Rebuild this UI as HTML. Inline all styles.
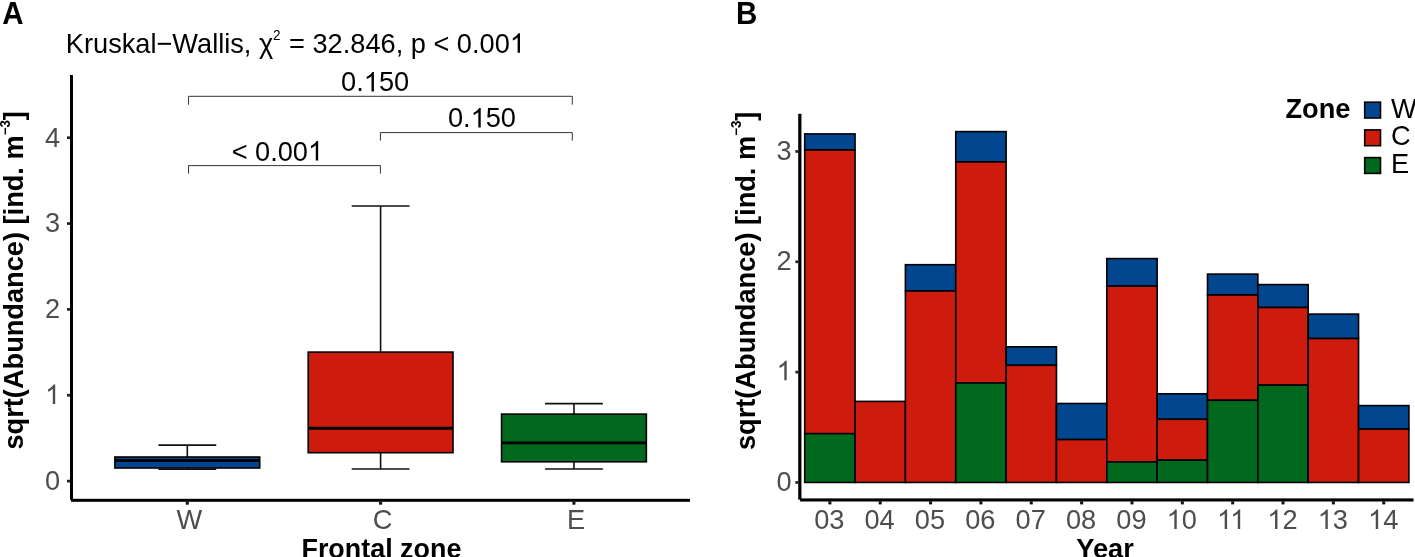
<!DOCTYPE html>
<html><head><meta charset="utf-8"><style>
html,body{margin:0;padding:0;background:#fff;}
svg{display:block;font-family:"Liberation Sans",sans-serif;font-kerning:normal;will-change:transform;}
</style></head><body>
<svg width="1415" height="557" viewBox="0 0 1415 557">
<rect width="1415" height="557" fill="#fff"/>
<text transform="translate(2.25,23.90) scale(1,1.035)" font-size="29.5" font-weight="bold">A</text>
<text transform="translate(65.85,52.80) scale(1,1.04)" font-size="27.2">Kruskal−Wallis,</text>
<text transform="translate(258.90,52.80) scale(1,1.04)" font-size="27.2">χ</text>
<text transform="translate(272.95,39.70) scale(1,1.04)" font-size="13.5">2</text>
<text transform="translate(289.05,52.80) scale(1,1.04)" font-size="27.2">= 32.846, p &lt; 0.00</text>
<path transform="translate(509.86,52.80) scale(0.01328,-0.01328)" d="M763 0L583 0L583 1147Q518 1085 412.5 1023Q307 961 223 930L223 1104Q374 1175 484.5 1274.5Q595 1374 646 1466L763 1466Z" fill="#000"/>
<rect x="70" y="75" width="3" height="424.8" fill="#000"/>
<rect x="71" y="498.8" width="619" height="3" fill="#000"/>
<rect x="67" y="479.75" width="3" height="2.7" fill="#222"/>
<text transform="translate(60.20,489.90) scale(1,1.04)" font-size="27.2" text-anchor="end" fill="#4d4d4d">0</text>
<rect x="67" y="393.90" width="3" height="2.7" fill="#222"/>
<path transform="translate(45.07,404.05) scale(0.01328,-0.01328)" d="M763 0L583 0L583 1147Q518 1085 412.5 1023Q307 961 223 930L223 1104Q374 1175 484.5 1274.5Q595 1374 646 1466L763 1466Z" fill="#4d4d4d"/>
<rect x="67" y="308.05" width="3" height="2.7" fill="#222"/>
<text transform="translate(60.20,318.20) scale(1,1.04)" font-size="27.2" text-anchor="end" fill="#4d4d4d">2</text>
<rect x="67" y="222.20" width="3" height="2.7" fill="#222"/>
<text transform="translate(60.20,232.35) scale(1,1.04)" font-size="27.2" text-anchor="end" fill="#4d4d4d">3</text>
<rect x="67" y="136.35" width="3" height="2.7" fill="#222"/>
<text transform="translate(60.20,146.50) scale(1,1.04)" font-size="27.2" text-anchor="end" fill="#4d4d4d">4</text>
<rect x="185.80" y="501.7" width="3" height="3.0" fill="#111"/>
<text transform="translate(189.30,528.70) scale(1,1.04)" font-size="27.2" text-anchor="middle" fill="#4d4d4d">W</text>
<rect x="379.10" y="501.7" width="3" height="3.0" fill="#111"/>
<text transform="translate(382.60,528.70) scale(1,1.04)" font-size="27.2" text-anchor="middle" fill="#4d4d4d">C</text>
<rect x="572.45" y="501.7" width="3" height="3.0" fill="#111"/>
<text transform="translate(575.95,528.70) scale(1,1.04)" font-size="27.2" text-anchor="middle" fill="#4d4d4d">E</text>
<text transform="translate(381.40,557.50) scale(1,1.04)" font-size="26.9" font-weight="bold" text-anchor="middle">Frontal zone</text>
<text transform="translate(23.20,449.50) rotate(-90) scale(1,1.04)" font-size="27.2" font-weight="bold">sqrt(Abundance) [ind. m<tspan font-size="13.3" dy="-12.8">−3</tspan><tspan dy="12.8">]</tspan></text>
<line x1="187.3" y1="445.1" x2="187.3" y2="457.0" stroke="#111" stroke-width="1.6"/>
<line x1="187.3" y1="468.0" x2="187.3" y2="469.3" stroke="#111" stroke-width="1.6"/>
<line x1="158.4" y1="445.1" x2="216.20000000000002" y2="445.1" stroke="#111" stroke-width="1.6"/>
<line x1="158.4" y1="469.3" x2="216.20000000000002" y2="469.3" stroke="#111" stroke-width="1.6"/>
<rect x="114.9" y="457.0" width="144.8" height="11.00" fill="#024690" stroke="#000" stroke-width="1.6"/>
<line x1="114.9" y1="460.5" x2="259.70000000000005" y2="460.5" stroke="#000" stroke-width="2.9"/>
<line x1="380.6" y1="206.0" x2="380.6" y2="352.1" stroke="#111" stroke-width="1.6"/>
<line x1="380.6" y1="452.7" x2="380.6" y2="469.0" stroke="#111" stroke-width="1.6"/>
<line x1="351.70000000000005" y1="206.0" x2="409.5" y2="206.0" stroke="#111" stroke-width="1.6"/>
<line x1="351.70000000000005" y1="469.0" x2="409.5" y2="469.0" stroke="#111" stroke-width="1.6"/>
<rect x="308.20000000000005" y="352.1" width="144.8" height="100.60" fill="#cd1c0e" stroke="#000" stroke-width="1.6"/>
<line x1="308.20000000000005" y1="428.3" x2="453.0" y2="428.3" stroke="#000" stroke-width="2.9"/>
<line x1="573.95" y1="403.6" x2="573.95" y2="414.1" stroke="#111" stroke-width="1.6"/>
<line x1="573.95" y1="461.8" x2="573.95" y2="469.0" stroke="#111" stroke-width="1.6"/>
<line x1="545.0500000000001" y1="403.6" x2="602.85" y2="403.6" stroke="#111" stroke-width="1.6"/>
<line x1="545.0500000000001" y1="469.0" x2="602.85" y2="469.0" stroke="#111" stroke-width="1.6"/>
<rect x="501.55000000000007" y="414.1" width="144.8" height="47.70" fill="#00691e" stroke="#000" stroke-width="1.6"/>
<line x1="501.55000000000007" y1="442.9" x2="646.35" y2="442.9" stroke="#000" stroke-width="2.9"/>
<path d="M188.55 104.7 V96.3 H572.3 V104.7" fill="none" stroke="#333" stroke-width="1.0"/>
<path d="M380.4 140.6 V132.6 H572.3 V140.6" fill="none" stroke="#333" stroke-width="1.0"/>
<path d="M188.55 173.6 V165.6 H380.4 V173.6" fill="none" stroke="#333" stroke-width="1.0"/>
<text transform="translate(341.10,91.40) scale(1,1.04)" font-size="27.2">0.</text>
<path transform="translate(363.78,91.40) scale(0.01328,-0.01328)" d="M763 0L583 0L583 1147Q518 1085 412.5 1023Q307 961 223 930L223 1104Q374 1175 484.5 1274.5Q595 1374 646 1466L763 1466Z" fill="#000"/>
<text transform="translate(378.91,91.40) scale(1,1.04)" font-size="27.2">50</text>
<text transform="translate(447.90,127.40) scale(1,1.04)" font-size="27.2">0.</text>
<path transform="translate(470.58,127.40) scale(0.01328,-0.01328)" d="M763 0L583 0L583 1147Q518 1085 412.5 1023Q307 961 223 930L223 1104Q374 1175 484.5 1274.5Q595 1374 646 1466L763 1466Z" fill="#000"/>
<text transform="translate(485.71,127.40) scale(1,1.04)" font-size="27.2">50</text>
<text transform="translate(231.65,160.50) scale(1,1.04)" font-size="27.2">&lt; 0.00</text>
<path transform="translate(308.03,160.50) scale(0.01328,-0.01328)" d="M763 0L583 0L583 1147Q518 1085 412.5 1023Q307 961 223 930L223 1104Q374 1175 484.5 1274.5Q595 1374 646 1466L763 1466Z" fill="#000"/>
<text transform="translate(736.00,23.90) scale(1,1.035)" font-size="29.5" font-weight="bold">B</text>
<rect x="798.2" y="113.8" width="3.25" height="385.8" fill="#000"/>
<rect x="800.1" y="498.4" width="613.4" height="3.1" fill="#000"/>
<rect x="795.4" y="481.10" width="3" height="2.7" fill="#222"/>
<text transform="translate(791.70,490.60) scale(1,1.04)" font-size="27.2" text-anchor="end" fill="#4d4d4d">0</text>
<rect x="795.4" y="370.77" width="3" height="2.7" fill="#222"/>
<path transform="translate(776.57,380.27) scale(0.01328,-0.01328)" d="M763 0L583 0L583 1147Q518 1085 412.5 1023Q307 961 223 930L223 1104Q374 1175 484.5 1274.5Q595 1374 646 1466L763 1466Z" fill="#4d4d4d"/>
<rect x="795.4" y="260.44" width="3" height="2.7" fill="#222"/>
<text transform="translate(791.70,269.94) scale(1,1.04)" font-size="27.2" text-anchor="end" fill="#4d4d4d">2</text>
<rect x="795.4" y="150.11" width="3" height="2.7" fill="#222"/>
<text transform="translate(791.70,159.61) scale(1,1.04)" font-size="27.2" text-anchor="end" fill="#4d4d4d">3</text>
<rect x="804.70" y="133.9" width="50.350" height="16.10" fill="#024690" stroke="#000" stroke-width="1.6"/>
<rect x="804.70" y="150.0" width="50.350" height="283.70" fill="#cd1c0e" stroke="#000" stroke-width="1.6"/>
<rect x="804.70" y="433.7" width="50.350" height="48.75" fill="#00691e" stroke="#000" stroke-width="1.6"/>
<rect x="828.38" y="501.3" width="3" height="3.1" fill="#111"/>
<text transform="translate(829.27,528.90) scale(1,1.04)" font-size="27.2" text-anchor="middle" fill="#4d4d4d">03</text>
<rect x="855.05" y="401.4" width="50.350" height="81.05" fill="#cd1c0e" stroke="#000" stroke-width="1.6"/>
<rect x="878.73" y="501.3" width="3" height="3.1" fill="#111"/>
<text transform="translate(879.62,528.90) scale(1,1.04)" font-size="27.2" text-anchor="middle" fill="#4d4d4d">04</text>
<rect x="905.40" y="264.7" width="50.350" height="26.30" fill="#024690" stroke="#000" stroke-width="1.6"/>
<rect x="905.40" y="291.0" width="50.350" height="191.45" fill="#cd1c0e" stroke="#000" stroke-width="1.6"/>
<rect x="929.08" y="501.3" width="3" height="3.1" fill="#111"/>
<text transform="translate(929.98,528.90) scale(1,1.04)" font-size="27.2" text-anchor="middle" fill="#4d4d4d">05</text>
<rect x="955.75" y="131.6" width="50.350" height="30.30" fill="#024690" stroke="#000" stroke-width="1.6"/>
<rect x="955.75" y="161.9" width="50.350" height="221.10" fill="#cd1c0e" stroke="#000" stroke-width="1.6"/>
<rect x="955.75" y="383.0" width="50.350" height="99.45" fill="#00691e" stroke="#000" stroke-width="1.6"/>
<rect x="979.42" y="501.3" width="3" height="3.1" fill="#111"/>
<text transform="translate(980.32,528.90) scale(1,1.04)" font-size="27.2" text-anchor="middle" fill="#4d4d4d">06</text>
<rect x="1006.10" y="346.8" width="50.350" height="18.50" fill="#024690" stroke="#000" stroke-width="1.6"/>
<rect x="1006.10" y="365.3" width="50.350" height="117.15" fill="#cd1c0e" stroke="#000" stroke-width="1.6"/>
<rect x="1029.78" y="501.3" width="3" height="3.1" fill="#111"/>
<text transform="translate(1030.68,528.90) scale(1,1.04)" font-size="27.2" text-anchor="middle" fill="#4d4d4d">07</text>
<rect x="1056.45" y="403.5" width="50.350" height="36.10" fill="#024690" stroke="#000" stroke-width="1.6"/>
<rect x="1056.45" y="439.6" width="50.350" height="42.85" fill="#cd1c0e" stroke="#000" stroke-width="1.6"/>
<rect x="1080.12" y="501.3" width="3" height="3.1" fill="#111"/>
<text transform="translate(1081.03,528.90) scale(1,1.04)" font-size="27.2" text-anchor="middle" fill="#4d4d4d">08</text>
<rect x="1106.80" y="258.6" width="50.350" height="27.60" fill="#024690" stroke="#000" stroke-width="1.6"/>
<rect x="1106.80" y="286.2" width="50.350" height="175.70" fill="#cd1c0e" stroke="#000" stroke-width="1.6"/>
<rect x="1106.80" y="461.9" width="50.350" height="20.55" fill="#00691e" stroke="#000" stroke-width="1.6"/>
<rect x="1130.48" y="501.3" width="3" height="3.1" fill="#111"/>
<text transform="translate(1131.38,528.90) scale(1,1.04)" font-size="27.2" text-anchor="middle" fill="#4d4d4d">09</text>
<rect x="1157.15" y="393.8" width="50.350" height="25.50" fill="#024690" stroke="#000" stroke-width="1.6"/>
<rect x="1157.15" y="419.3" width="50.350" height="40.90" fill="#cd1c0e" stroke="#000" stroke-width="1.6"/>
<rect x="1157.15" y="460.2" width="50.350" height="22.25" fill="#00691e" stroke="#000" stroke-width="1.6"/>
<rect x="1180.83" y="501.3" width="3" height="3.1" fill="#111"/>
<path transform="translate(1166.60,528.90) scale(0.01328,-0.01328)" d="M763 0L583 0L583 1147Q518 1085 412.5 1023Q307 961 223 930L223 1104Q374 1175 484.5 1274.5Q595 1374 646 1466L763 1466Z" fill="#4d4d4d"/>
<text transform="translate(1181.73,528.90) scale(1,1.04)" font-size="27.2" fill="#4d4d4d">0</text>
<rect x="1207.50" y="274.1" width="50.350" height="20.90" fill="#024690" stroke="#000" stroke-width="1.6"/>
<rect x="1207.50" y="295.0" width="50.350" height="105.30" fill="#cd1c0e" stroke="#000" stroke-width="1.6"/>
<rect x="1207.50" y="400.3" width="50.350" height="82.15" fill="#00691e" stroke="#000" stroke-width="1.6"/>
<rect x="1231.17" y="501.3" width="3" height="3.1" fill="#111"/>
<path transform="translate(1216.95,528.90) scale(0.01328,-0.01328)" d="M763 0L583 0L583 1147Q518 1085 412.5 1023Q307 961 223 930L223 1104Q374 1175 484.5 1274.5Q595 1374 646 1466L763 1466Z" fill="#4d4d4d"/>
<path transform="translate(1230.06,528.90) scale(0.01328,-0.01328)" d="M763 0L583 0L583 1147Q518 1085 412.5 1023Q307 961 223 930L223 1104Q374 1175 484.5 1274.5Q595 1374 646 1466L763 1466Z" fill="#4d4d4d"/>
<rect x="1257.85" y="284.6" width="50.350" height="22.90" fill="#024690" stroke="#000" stroke-width="1.6"/>
<rect x="1257.85" y="307.5" width="50.350" height="77.60" fill="#cd1c0e" stroke="#000" stroke-width="1.6"/>
<rect x="1257.85" y="385.1" width="50.350" height="97.35" fill="#00691e" stroke="#000" stroke-width="1.6"/>
<rect x="1281.53" y="501.3" width="3" height="3.1" fill="#111"/>
<path transform="translate(1267.30,528.90) scale(0.01328,-0.01328)" d="M763 0L583 0L583 1147Q518 1085 412.5 1023Q307 961 223 930L223 1104Q374 1175 484.5 1274.5Q595 1374 646 1466L763 1466Z" fill="#4d4d4d"/>
<text transform="translate(1282.43,528.90) scale(1,1.04)" font-size="27.2" fill="#4d4d4d">2</text>
<rect x="1308.20" y="314.1" width="50.350" height="24.40" fill="#024690" stroke="#000" stroke-width="1.6"/>
<rect x="1308.20" y="338.5" width="50.350" height="143.95" fill="#cd1c0e" stroke="#000" stroke-width="1.6"/>
<rect x="1331.88" y="501.3" width="3" height="3.1" fill="#111"/>
<path transform="translate(1317.65,528.90) scale(0.01328,-0.01328)" d="M763 0L583 0L583 1147Q518 1085 412.5 1023Q307 961 223 930L223 1104Q374 1175 484.5 1274.5Q595 1374 646 1466L763 1466Z" fill="#4d4d4d"/>
<text transform="translate(1332.78,528.90) scale(1,1.04)" font-size="27.2" fill="#4d4d4d">3</text>
<rect x="1358.55" y="405.6" width="50.350" height="23.50" fill="#024690" stroke="#000" stroke-width="1.6"/>
<rect x="1358.55" y="429.1" width="50.350" height="53.35" fill="#cd1c0e" stroke="#000" stroke-width="1.6"/>
<rect x="1382.23" y="501.3" width="3" height="3.1" fill="#111"/>
<path transform="translate(1368.00,528.90) scale(0.01328,-0.01328)" d="M763 0L583 0L583 1147Q518 1085 412.5 1023Q307 961 223 930L223 1104Q374 1175 484.5 1274.5Q595 1374 646 1466L763 1466Z" fill="#4d4d4d"/>
<text transform="translate(1383.13,528.90) scale(1,1.04)" font-size="27.2" fill="#4d4d4d">4</text>
<text transform="translate(1105.00,557.50) scale(1,1.04)" font-size="27.2" font-weight="bold" text-anchor="middle">Year</text>
<text transform="translate(754.70,450.00) rotate(-90) scale(1,1.04)" font-size="27.2" font-weight="bold">sqrt(Abundance) [ind. m<tspan font-size="13.3" dy="-12.8">−3</tspan><tspan dy="12.8">]</tspan></text>
<text transform="translate(1285.45,117.70) scale(1,1.04)" font-size="27.2" font-weight="bold">Zone</text>
<rect x="1364.7" y="102.20" width="15.8" height="15.8" fill="#024690" stroke="#000" stroke-width="1.6"/>
<text transform="translate(1391.05,117.60) scale(1,1.04)" font-size="27.2">W</text>
<rect x="1364.7" y="129.90" width="15.8" height="15.8" fill="#cd1c0e" stroke="#000" stroke-width="1.6"/>
<text transform="translate(1391.05,145.20) scale(1,1.04)" font-size="27.2">C</text>
<rect x="1364.7" y="157.60" width="15.8" height="15.8" fill="#00691e" stroke="#000" stroke-width="1.6"/>
<text transform="translate(1391.05,172.80) scale(1,1.04)" font-size="27.2">E</text>
</svg></body></html>
